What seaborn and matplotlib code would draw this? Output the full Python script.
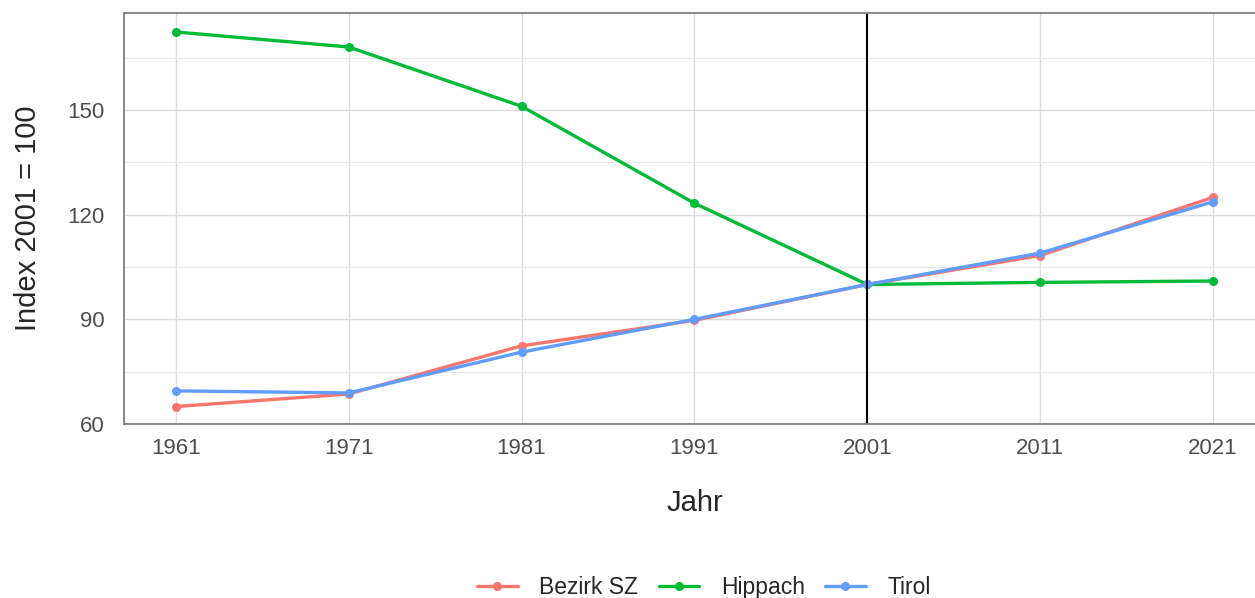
import numpy as np
import pandas as pd
import seaborn as sns
import matplotlib.pyplot as plt

# data
jahre = [1961, 1971, 1981, 1991, 2001, 2011, 2021]
bezirk_sz = [65.0, 68.6, 82.4, 89.7, 100.0, 108.3, 125.0]
hippach = [172.4, 168.1, 151.1, 123.3, 100.0, 100.6, 101.0]
tirol = [69.5, 68.9, 80.6, 90.0, 100.0, 109.0, 123.7]
regionen = ["Bezirk SZ", "Hippach", "Tirol"]
farben = ["#F8766D", "#00BA38", "#619CFF"]

df = pd.DataFrame({
    "Jahr": jahre * 3,
    "Index": bezirk_sz + hippach + tirol,
    "Region": np.repeat(regionen, len(jahre)),
})

sns.set_style("white")
plt.rcParams['font.family'] = ['Arial', 'Liberation Sans', 'DejaVu Sans']

fig = plt.figure(figsize=(12.55, 5.98), dpi=100)
ax = fig.add_axes([0.0988, 0.291, 0.909, 0.687])

ax.set_xlim(1958, 2024)
ax.set_ylim(60, 177.8)
ax.set_yticks([60, 90, 120, 150])
ax.set_yticks([75, 105, 135, 165], minor=True)
ax.set_xticks(jahre)
ax.grid(True, which="major", color="#DCDCDC", linewidth=1.0)
ax.grid(True, which="minor", axis="y", color="#E8E8E8", linewidth=0.8)
ax.set_axisbelow(True)

sns.lineplot(data=df, x="Jahr", y="Index", hue="Region", hue_order=regionen,
             palette=farben, marker="o", markersize=6.5, markeredgewidth=0,
             linewidth=2.4, ax=ax)

ax.axvline(2001, color="black", linewidth=1.5)

for side in ["top", "bottom", "left"]:
    ax.spines[side].set_color("#7F7F7F")
    ax.spines[side].set_linewidth(1.3)
ax.spines["right"].set_visible(False)

ax.tick_params(axis="both", which="major", length=5, color="#7F7F7F",
               labelsize=16, labelcolor="#4D4D4D", pad=5)
ax.tick_params(axis="y", which="major", pad=9)
ax.tick_params(axis="both", which="minor", length=0)

ax.set_xlabel("Jahr", fontsize=21, labelpad=22)
ax.set_ylabel("Index 2001 = 100", fontsize=21, labelpad=18)

handles, labels = ax.get_legend_handles_labels()
ax.legend_.remove()
fig.legend(handles, labels, loc="center", bbox_to_anchor=(0.561, 0.018),
           ncol=3, frameon=False, fontsize=16.5, handlelength=1.75,
           columnspacing=0.9, handletextpad=0.95)

fig.savefig("out.png", dpi=100)
